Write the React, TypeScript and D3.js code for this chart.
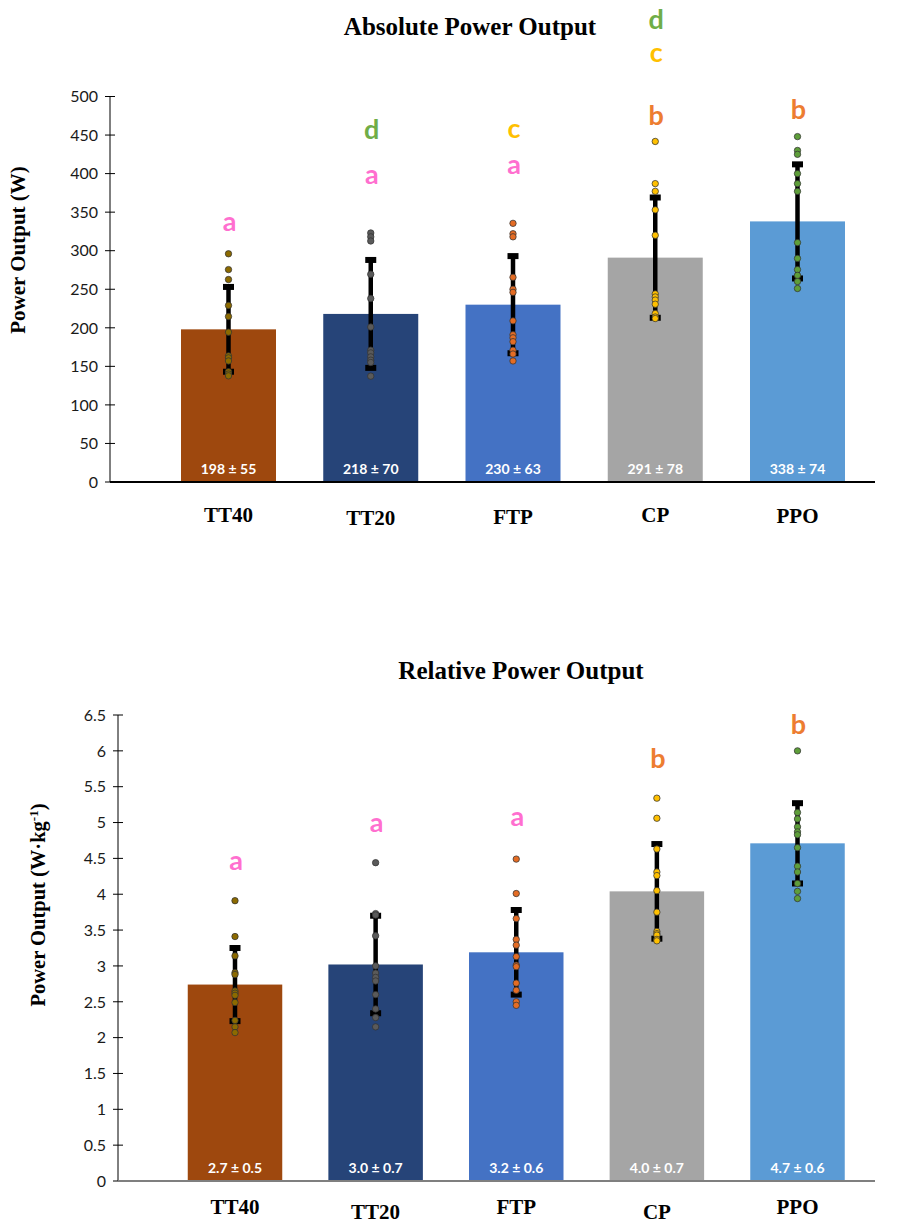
import React from "react";
import * as d3 from "d3";

// ---------- DATA ----------
const categories = ["TT40", "TT20", "FTP", "CP", "PPO"];

const absMeans = [198, 218, 230, 291, 338];
const absSD = [55, 70, 63, 78, 74];
const absTicks = [0, 50, 100, 150, 200, 250, 300, 350, 400, 450, 500];

const absTT40 = [296, 275.5, 262.6, 229, 214.6, 194.3, 163.6, 161, 157, 143, 140, 137.7];
const absTT20 = [323, 318, 312.6, 269.4, 238, 201, 171, 167.5, 162.3, 158, 155, 137.3];
const absFTP = [335.5, 322, 318, 265.5, 250, 246, 209, 191, 187, 182, 171, 166, 157];
const absCP = [441.7, 387, 377, 353, 320, 244, 240, 236, 230.6, 218.5, 214, 212];
const absPPO = [448, 430, 425, 400, 387, 377, 310.5, 290, 275.5, 268, 260, 251];

const relMeans = [2.74, 3.02, 3.19, 4.04, 4.71];
const relSD = [0.51, 0.68, 0.59, 0.66, 0.56];
const relTicks = [0, 0.5, 1, 1.5, 2, 2.5, 3, 3.5, 4, 4.5, 5, 5.5, 6, 6.5];

const relTT40 = [3.91, 3.41, 3.14, 2.905, 2.88, 2.65, 2.62, 2.59, 2.49, 2.24, 2.15, 2.07];
const relTT20 = [4.44, 3.73, 3.71, 3.42, 3.0, 2.9, 2.84, 2.79, 2.6, 2.4, 2.28, 2.15];
const relFTP = [4.49, 4.01, 3.66, 3.37, 3.29, 3.13, 3.01, 2.99, 2.76, 2.66, 2.5, 2.45];
const relCP = [5.34, 5.06, 4.63, 4.31, 4.26, 4.05, 3.75, 3.48, 3.45, 3.43, 3.37, 3.35];
const relPPO = [6.0, 5.14, 5.05, 4.94, 4.87, 4.83, 4.65, 4.39, 4.31, 4.15, 4.04, 3.94];

// significance letters: [letter, y-value of baseline]
const absLetters: [string, number][][] = [
  [["a", 326]],
  [["a", 387], ["d", 445]],
  [["a", 399], ["c", 446.5]],
  [["b", 462.4], ["c", 544.4], ["d", 587.7]],
  [["b", 471]],
];
const relLetters: [string, number][][] = [
  [["a", 4.34]],
  [["a", 4.87]],
  [["a", 4.95]],
  [["b", 5.76]],
  [["b", 6.23]],
];

// ---------- STYLES ----------
const barColors = ["#9E480E", "#264478", "#4472C4", "#A5A5A5", "#5B9BD5"];
const dotColors = ["#8C6A00", "#5A5A5A", "#E46C24", "#FFC000", "#5E9E3A"];
const letterColors: Record<string, string> = {
  a: "#FF6FCF",
  b: "#ED7D31",
  c: "#FFC000",
  d: "#70AD47",
};
const serif = "'Liberation Serif', 'Times New Roman', serif";
const sans = "Lato, Carlito, Calibri, 'Open Sans', sans-serif";

type PanelProps = {
  title: string;
  titleX: number;
  titleY: number;
  yTitle: React.ReactNode;
  yTitleX: number;
  yTitleY: number;
  yTitleSize: number;
  axisX: number;
  axisRight: number;
  y0: number;
  yTop: number;
  yMax: number;
  ticks: number[];
  centerRange: [number, number];
  barWidth: number;
  means: number[];
  sds: number[];
  dots: number[][];
  letters: [string, number][][];
  fmt: (v: number) => string;
  catLabelY: number;
  catLabelDy: number[];
  baselineColor: string;
};

function Panel(p: PanelProps) {
  const y = d3.scaleLinear().domain([0, p.yMax]).range([p.y0, p.yTop]);
  const x = d3.scalePoint<string>().domain(categories).range(p.centerRange);
  return (
    <g>
      <text
        x={p.titleX}
        y={p.titleY}
        textAnchor="middle"
        fontFamily={serif}
        fontWeight="bold"
        fontSize={25}
      >
        {p.title}
      </text>
      <text
        transform={`translate(${p.yTitleX},${p.yTitleY}) rotate(-90)`}
        textAnchor="middle"
        fontFamily={serif}
        fontWeight="bold"
        fontSize={p.yTitleSize}
      >
        {p.yTitle}
      </text>
      {/* y axis */}
      <line x1={p.axisX} x2={p.axisX} y1={y(p.yMax)} y2={p.y0} stroke="#000" strokeWidth={1} />
      {p.ticks.map((t) => (
        <g key={t}>
          <line x1={p.axisX - 5} x2={p.axisX + 5} y1={y(t)} y2={y(t)} stroke="#000" strokeWidth={1} />
          <text
            x={p.axisX - 12}
            y={y(t)}
            dy="0.36em"
            textAnchor="end"
            fontFamily={sans}
            fontSize={16}
            fill="#1a1a1a"
          >
            {t}
          </text>
        </g>
      ))}
      {/* bars */}
      {categories.map((c, i) => (
        <rect
          key={c}
          x={(x(c) as number) - p.barWidth / 2}
          y={y(p.means[i])}
          width={p.barWidth}
          height={p.y0 - y(p.means[i])}
          fill={barColors[i]}
        />
      ))}
      {/* x axis */}
      <line x1={p.axisX} x2={p.axisRight} y1={p.y0} y2={p.y0} stroke={p.baselineColor} strokeWidth={2} />
      {/* value labels */}
      {categories.map((c, i) => (
        <text
          key={c}
          x={x(c) as number}
          y={p.y0 - 8}
          textAnchor="middle"
          fontFamily={sans}
          fontWeight="bold"
          fontSize={14}
          fill="#fff"
        >
          {`${p.fmt(p.means[i])} ± ${p.fmt(p.sds[i])}`}
        </text>
      ))}
      {/* error bars */}
      {categories.map((c, i) => {
        const cx = x(c) as number;
        const hi = y(p.means[i] + p.sds[i]);
        const lo = y(p.means[i] - p.sds[i]);
        return (
          <g key={c}>
            <line x1={cx} x2={cx} y1={hi} y2={lo} stroke="#000" strokeWidth={4.5} />
            <rect x={cx - 5.5} y={hi - 3} width={11} height={6} fill="#000" />
            <rect x={cx - 5.5} y={lo - 3} width={11} height={6} fill="#000" />
          </g>
        );
      })}
      {/* dots */}
      {categories.map((c, i) =>
        p.dots[i].map((v, j) => (
          <circle
            key={c + j}
            cx={x(c) as number}
            cy={y(v)}
            r={3.2}
            fill={dotColors[i]}
            stroke="#333"
            strokeOpacity={0.75}
            strokeWidth={1}
          />
        ))
      )}
      {/* letters */}
      {categories.map((c, i) =>
        p.letters[i].map(([l, v]) => (
          <text
            key={c + l}
            x={(x(c) as number) + 1}
            y={y(v)}
            textAnchor="middle"
            fontFamily={sans}
            fontWeight="bold"
            fontSize={27}
            fill={letterColors[l]}
          >
            {l}
          </text>
        ))
      )}
      {/* category labels */}
      {categories.map((c, i) => (
        <text
          key={c}
          x={x(c) as number}
          y={p.catLabelY + p.catLabelDy[i]}
          textAnchor="middle"
          fontFamily={serif}
          fontWeight="bold"
          fontSize={21}
        >
          {c}
        </text>
      ))}
    </g>
  );
}

export default function App() {
  return (
    <svg
      width={909}
      height={1224}
      style={{ position: "absolute", left: 0, top: 0, background: "#fff" }}
    >
      <rect width={909} height={1224} fill="#fff" />
      <Panel
        title="Absolute Power Output"
        titleX={470}
        titleY={35}
        yTitle="Power Output (W)"
        yTitleX={25}
        yTitleY={250}
        yTitleSize={21}
        axisX={110}
        axisRight={875}
        y0={482}
        yTop={96.5}
        yMax={500}
        ticks={absTicks}
        centerRange={[228.5, 797.5]}
        barWidth={95}
        means={absMeans}
        sds={absSD}
        dots={[absTT40, absTT20, absFTP, absCP, absPPO]}
        letters={absLetters}
        fmt={(v) => d3.format("d")(v)}
        catLabelY={522}
        catLabelDy={[0, 3, 2, 0, 1]}
        baselineColor="#000"
      />
      <Panel
        title="Relative Power Output"
        titleX={521}
        titleY={679}
        yTitle={
          <>
            Power Output (W·kg
            <tspan dy={-7} fontSize={13}>-1</tspan>
            <tspan dy={7}>)</tspan>
          </>
        }
        yTitleX={45}
        yTitleY={905}
        yTitleSize={20.5}
        axisX={118}
        axisRight={875}
        y0={1181}
        yTop={715}
        yMax={6.5}
        ticks={relTicks}
        centerRange={[235, 797.5]}
        barWidth={94.5}
        means={relMeans}
        sds={relSD}
        dots={[relTT40, relTT20, relFTP, relCP, relPPO]}
        letters={relLetters}
        fmt={(v) => d3.format(".1f")(v)}
        catLabelY={1214}
        catLabelDy={[0, 5, 0, 5, 0]}
        baselineColor="#7F7F7F"
      />
    </svg>
  );
}
